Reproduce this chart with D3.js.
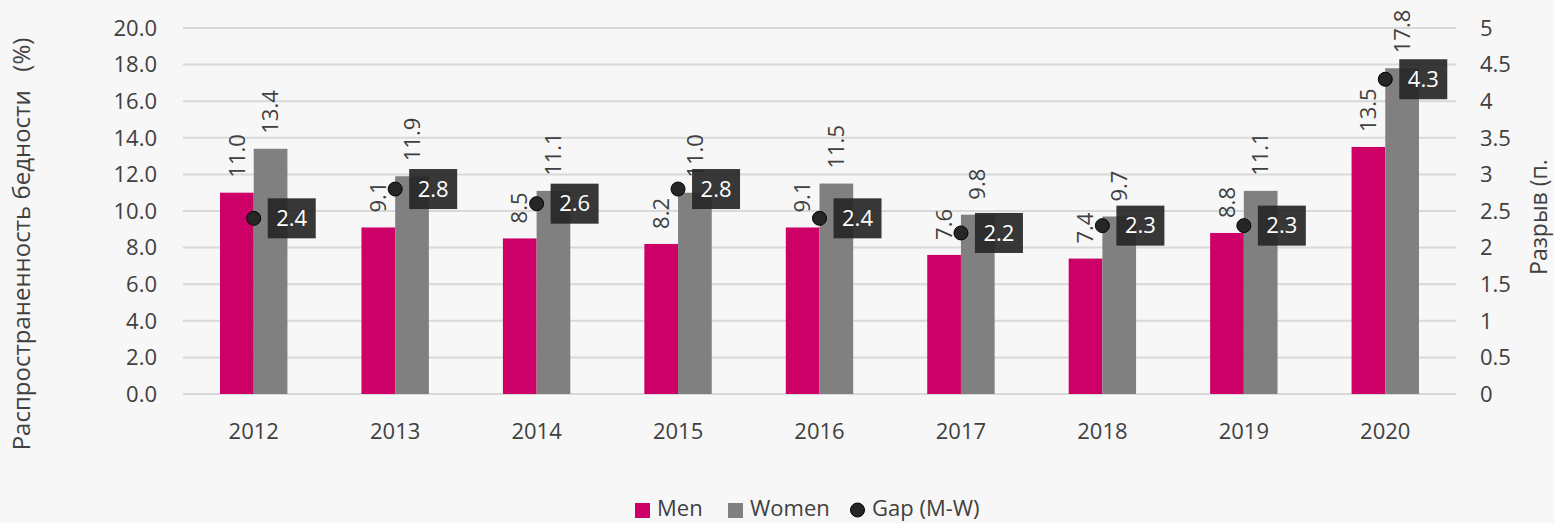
<!DOCTYPE html>
<html>
<head>
<meta charset="utf-8">
<script src="https://cdn.jsdelivr.net/npm/d3@7"></script>
<style>
  body { margin: 0; background: #f7f7f7; }
  svg { display: block; font-family: "Open Sans", "Noto Sans", sans-serif; }
</style>
</head>
<body>
<svg id="chart" width="1554" height="523"></svg>
<script>
var years = ["2012", "2013", "2014", "2015", "2016", "2017", "2018", "2019", "2020"];
var men = [11.0, 9.1, 8.5, 8.2, 9.1, 7.6, 7.4, 8.8, 13.5];
var women = [13.4, 11.9, 11.1, 11.0, 11.5, 9.8, 9.7, 11.1, 17.8];
var gap = [2.4, 2.8, 2.6, 2.8, 2.4, 2.2, 2.3, 2.3, 4.3];
var leftTicks = [0, 2, 4, 6, 8, 10, 12, 14, 16, 18, 20];
var rightTicks = [0, 0.5, 1, 1.5, 2, 2.5, 3, 3.5, 4, 4.5, 5];
var seriesNames = ["Men", "Women", "Gap (M-W)"];

var svg = d3.select("#chart"),
    margin = { top: 28, right: 98, bottom: 129, left: 183 },
    width = +svg.attr("width") - margin.left - margin.right,
    height = +svg.attr("height") - margin.top - margin.bottom,
    g = svg.append("g").attr("transform", "translate(" + margin.left + "," + margin.top + ")");

var menColor = "#cc0066", womenColor = "#808080", textColor = "#404040";
var fs = 22;

svg.insert("rect", ":first-child").attr("width", 1554).attr("height", 523).attr("fill", "#f7f7f7");

var x = d3.scaleBand().domain(years).range([0, width]).paddingInner(0).paddingOuter(0);
var barW = 33.7;
var y = d3.scaleLinear().domain([0, 20]).range([height, 0]);
var y2 = d3.scaleLinear().domain([0, 5]).range([height, 0]);

// gridlines
g.append("g").selectAll("line").data(leftTicks).enter().append("line")
    .attr("x1", 0).attr("x2", width)
    .attr("y1", function(d) { return y(d); })
    .attr("y2", function(d) { return y(d); })
    .attr("stroke", "#d9d9d9").attr("stroke-width", 2);

// left axis labels
g.append("g").selectAll("text").data(leftTicks).enter().append("text")
    .attr("x", -26).attr("y", function(d) { return y(d); })
    .attr("dy", "0.35em").attr("text-anchor", "end")
    .attr("font-size", fs).attr("fill", textColor)
    .text(function(d) { return d.toFixed(1); });

// right axis labels
g.append("g").selectAll("text").data(rightTicks).enter().append("text")
    .attr("x", width + 24).attr("y", function(d) { return y2(d); })
    .attr("dy", "0.35em").attr("text-anchor", "start")
    .attr("font-size", fs).attr("fill", textColor)
    .text(function(d) { return d; });

// x labels
g.append("g").selectAll("text").data(years).enter().append("text")
    .attr("x", function(d) { return x(d) + x.bandwidth() / 2; })
    .attr("y", height + 37).attr("dy", "0.35em")
    .attr("text-anchor", "middle").attr("font-size", fs).attr("fill", textColor)
    .text(function(d) { return d; });

// axis titles
svg.append("text")
    .attr("transform", "translate(22,244) rotate(-90)")
    .attr("text-anchor", "middle").attr("dy", "0.35em")
    .attr("font-size", 24).attr("fill", textColor)
    .attr("xml:space", "preserve")
    .text("Распространенность бедности   (%)");
svg.append("text")
    .attr("transform", "translate(1539,217) rotate(-90)")
    .attr("text-anchor", "middle").attr("dy", "0.35em")
    .attr("font-size", 23).attr("fill", textColor)
    .text("Разрыв (п.");

var data = years.map(function(yr, i) {
    return { year: yr, men: men[i], women: women[i], gap: gap[i] };
});

// bars
var groups = g.append("g").selectAll("g").data(data).enter().append("g");
groups.append("rect")
    .attr("x", function(d) { return x(d.year) + x.bandwidth() / 2 - barW; })
    .attr("y", function(d) { return y(d.men); })
    .attr("width", barW)
    .attr("height", function(d) { return height - y(d.men); })
    .attr("fill", menColor);
groups.append("rect")
    .attr("x", function(d) { return x(d.year) + x.bandwidth() / 2; })
    .attr("y", function(d) { return y(d.women); })
    .attr("width", barW)
    .attr("height", function(d) { return height - y(d.women); })
    .attr("fill", womenColor);

// bar value labels (rotated)
groups.append("text")
    .attr("transform", function(d) {
        return "translate(" + (x(d.year) + x.bandwidth() / 2 - barW / 2) + "," + (y(d.men) - 15) + ") rotate(-90)";
    })
    .attr("dy", "0.35em").attr("font-size", fs).attr("fill", textColor)
    .text(function(d) { return d.men.toFixed(1); });
groups.append("text")
    .attr("transform", function(d) {
        return "translate(" + (x(d.year) + x.bandwidth() / 2 + barW / 2) + "," + (y(d.women) - 15) + ") rotate(-90)";
    })
    .attr("dy", "0.35em").attr("font-size", fs).attr("fill", textColor)
    .text(function(d) { return d.women.toFixed(1); });

// gap markers and labels
var gapG = g.append("g").selectAll("g").data(data).enter().append("g")
    .attr("transform", function(d) {
        return "translate(" + (x(d.year) + x.bandwidth() / 2) + "," + y2(d.gap) + ")";
    });
gapG.append("circle").attr("r", 7).attr("fill", "#262626").attr("stroke", "#000").attr("stroke-width", 1);
gapG.append("rect")
    .attr("x", 14).attr("y", -20).attr("width", 48).attr("height", 40)
    .attr("fill", "#262626").attr("fill-opacity", 0.92);
gapG.append("text")
    .attr("x", 38).attr("y", 0).attr("dy", "0.35em")
    .attr("text-anchor", "middle").attr("font-size", fs).attr("fill", "#ffffff")
    .text(function(d) { return d.gap.toFixed(1); });

// legend
var legend = svg.append("g").attr("transform", "translate(0,510)");
var legX = [635, 728, 850];
legend.append("rect").attr("x", legX[0]).attr("y", -7).attr("width", 15).attr("height", 15).attr("fill", menColor);
legend.append("rect").attr("x", legX[1]).attr("y", -7).attr("width", 15).attr("height", 15).attr("fill", womenColor);
legend.append("circle").attr("cx", legX[2] + 7.5).attr("cy", 0).attr("r", 7).attr("fill", "#262626").attr("stroke", "#000");
legend.selectAll("text.leg").data(seriesNames).enter().append("text")
    .attr("class", "leg")
    .attr("x", function(d, i) { return legX[i] + 22; })
    .attr("y", 6)
    .attr("font-size", fs).attr("fill", textColor)
    .text(function(d) { return d; });
</script>
</body>
</html>
